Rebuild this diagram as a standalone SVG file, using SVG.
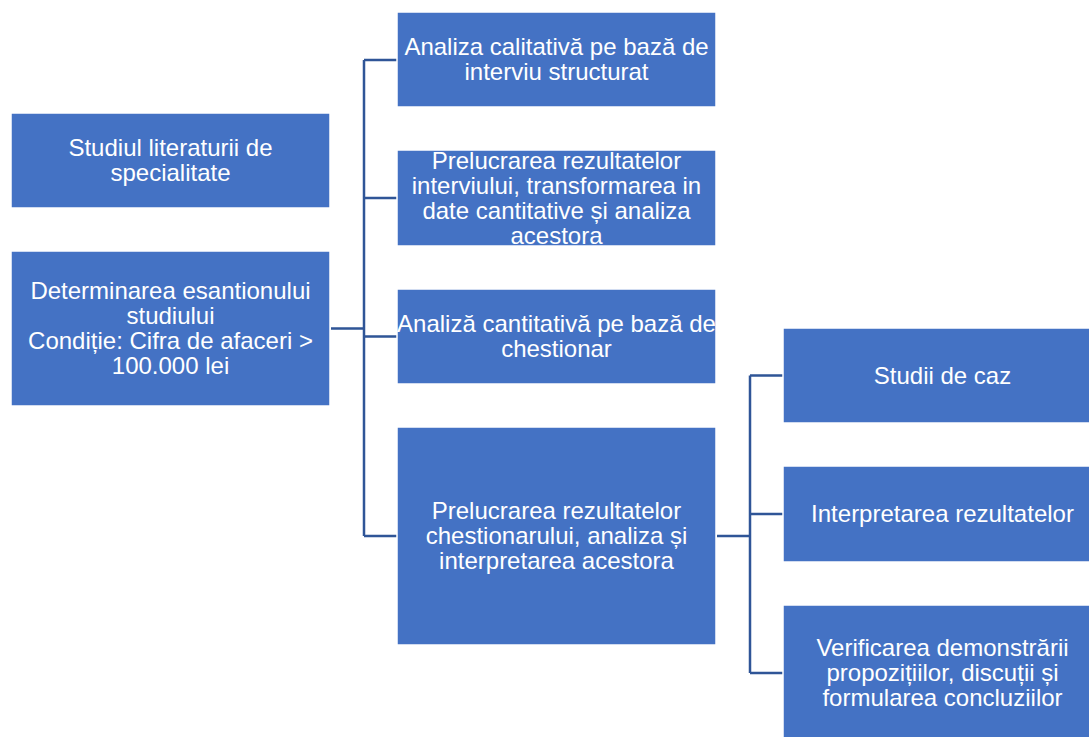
<svg xmlns="http://www.w3.org/2000/svg" width="1089" height="737" viewBox="0 0 1089 737">
<style>
.box{fill:#4472C4;stroke:#ffffff;stroke-width:1.5}
.t{font-family:"Liberation Sans",Arial,sans-serif;font-size:24px;fill:#ffffff;text-anchor:middle}
.c{fill:none;stroke:#2F5597;stroke-width:2.5}
</style>
<rect width="1089" height="737" fill="#ffffff"/>
<g id="connectors">
<path class="c" d="M331,328.5 H364 M364,60 V536 M364,60 H397 M364,198 H397 M364,336.5 H397 M364,536 H397"/>
<path class="c" d="M717,536 H750 M750,375.5 V673 M750,375.5 H783 M750,514 H783 M750,673 H783"/>
</g>
<g id="n1"><rect class="box" x="11" y="113" width="319" height="95"/>
<text class="t" x="170.5" y="156">Studiul literaturii de</text><text class="t" x="170.5" y="181">specialitate</text></g>
<g id="n2"><rect class="box" x="11" y="251" width="319" height="155"/>
<text class="t" x="170.5" y="299">Determinarea esantionului</text><text class="t" x="170.5" y="324">studiului</text><text class="t" x="170.5" y="349">Condiție: Cifra de afaceri &gt;</text><text class="t" x="170.5" y="374">100.000 lei</text></g>
<g id="n3"><rect class="box" x="397" y="12" width="319" height="95"/>
<text class="t" x="556.5" y="55">Analiza calitativă pe bază de</text><text class="t" x="556.5" y="80">interviu structurat</text></g>
<g id="n4"><rect class="box" x="397" y="150" width="319" height="96"/>
<text class="t" x="556.5" y="168.5">Prelucrarea rezultatelor</text><text class="t" x="556.5" y="193.5">interviului, transformarea in</text><text class="t" x="556.5" y="218.5">date cantitative și analiza</text><text class="t" x="556.5" y="243.5">acestora</text></g>
<g id="n5"><rect class="box" x="397" y="289" width="319" height="95"/>
<text class="t" x="556.5" y="332">Analiză cantitativă pe bază de</text><text class="t" x="556.5" y="357">chestionar</text></g>
<g id="n6"><rect class="box" x="397" y="427" width="319" height="218"/>
<text class="t" x="556.5" y="519">Prelucrarea rezultatelor</text><text class="t" x="556.5" y="544">chestionarului, analiza și</text><text class="t" x="556.5" y="569">interpretarea acestora</text></g>
<g id="n7"><rect class="box" x="783" y="328" width="319" height="95"/>
<text class="t" x="942.5" y="384">Studii de caz</text></g>
<g id="n8"><rect class="box" x="783" y="466" width="319" height="96"/>
<text class="t" x="942.5" y="522">Interpretarea rezultatelor</text></g>
<g id="n9"><rect class="box" x="783" y="605" width="319" height="137"/>
<text class="t" x="942.5" y="656">Verificarea demonstrării</text><text class="t" x="942.5" y="681">propozițiilor, discuții și</text><text class="t" x="942.5" y="706">formularea concluziilor</text></g>
</svg>
